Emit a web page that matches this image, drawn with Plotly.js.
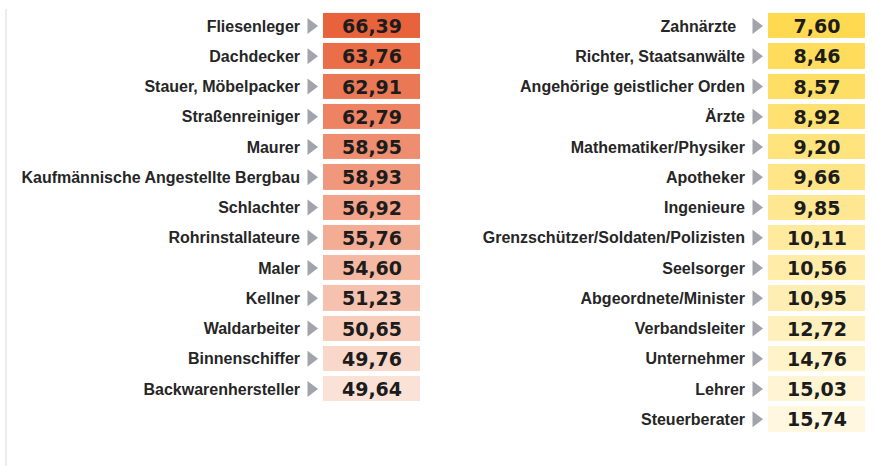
<!DOCTYPE html>
<html>
<head>
<meta charset="utf-8">
<script src="https://cdn.plot.ly/plotly-3.0.1.min.js"></script>
<style>html,body{margin:0;padding:0;background:#fff;}#chart{width:874px;height:466px;}</style>
</head>
<body>
<div id="chart"></div>
<script>
// ---- data ----
const leftJobs = ["Fliesenleger","Dachdecker","Stauer, Möbelpacker","Straßenreiniger","Maurer",
  "Kaufmännische Angestellte Bergbau","Schlachter","Rohrinstallateure","Maler","Kellner",
  "Waldarbeiter","Binnenschiffer","Backwarenhersteller"];
const leftValues = [66.39,63.76,62.91,62.79,58.95,58.93,56.92,55.76,54.60,51.23,50.65,49.76,49.64];

const rightJobs = ["Zahnärzte","Richter, Staatsanwälte","Angehörige geistlicher Orden","Ärzte",
  "Mathematiker/Physiker","Apotheker","Ingenieure","Grenzschützer/Soldaten/Polizisten","Seelsorger",
  "Abgeordnete/Minister","Verbandsleiter","Unternehmer","Lehrer","Steuerberater"];
const rightValues = [7.60,8.46,8.57,8.92,9.20,9.66,9.85,10.11,10.56,10.95,12.72,14.76,15.03,15.74];

// ---- styling helpers ----
function hex2rgb(h){return [1,3,5].map(i=>parseInt(h.substr(i,2),16));}
function mix(a,b,t){const A=hex2rgb(a),B=hex2rgb(b);return 'rgb('+A.map((v,i)=>Math.round(v+(B[i]-v)*t)).join(',')+')';}
function rankScale(values, strong, pale, strongAtMax){
  const sorted=[...values].sort((a,b)=>strongAtMax? b-a : a-b);
  const mn=Math.min(...values), mx=Math.max(...values), n=sorted.length;
  const stops=sorted.map((v,i)=>[(v-mn)/(mx-mn), mix(strong,pale,i/(n-1))]);
  stops.sort((a,b)=>a[0]-b[0]);
  return stops;
}

const CELL_W = 97, LEAD = 20, TRI_OFF = 12;
const xr = [-0.5 - LEAD/CELL_W, 0.5];
const triX = -0.5 - TRI_OFF/CELL_W;

const labelFont = {family:'"Liberation Sans", Arial, sans-serif', size:16, color:'#262626', weight:700};
const numFont = {family:'"DejaVu Sans", sans-serif', size:19, color:'#1c1c1c', weight:700};

const traces = [
  {type:'heatmap', x:[0], y:leftJobs, z:leftValues.map(v=>[v]), xaxis:'x', yaxis:'y',
   colorscale: rankScale(leftValues,'#E8633B','#FBE2D6',true), showscale:false,
   ygap:5, xgap:0, texttemplate:'%{z:.2f}', textfont:numFont, hoverinfo:'skip'},
  {type:'heatmap', x:[0], y:rightJobs, z:rightValues.map(v=>[v]), xaxis:'x2', yaxis:'y2',
   colorscale: rankScale(rightValues,'#FFDA50','#FFF7DF',false), showscale:false,
   ygap:5, xgap:0, texttemplate:'%{z:.2f}', textfont:numFont, hoverinfo:'skip'},
  {type:'scatter', mode:'markers', x:leftJobs.map(()=>triX), y:leftJobs, xaxis:'x', yaxis:'y',
   marker:{symbol:'triangle-right', size:14, color:'#A3A3AB'}, hoverinfo:'skip', cliponaxis:false},
  {type:'scatter', mode:'markers', x:rightJobs.map(()=>triX), y:rightJobs, xaxis:'x2', yaxis:'y2',
   marker:{symbol:'triangle-right', size:14, color:'#A3A3AB'}, hoverinfo:'skip', cliponaxis:false}
];

const FIG_H = 466, FIG_W = 874;
const topPad = 10.9, rowH = 30.25, nRows = 14;
const yDom = [1 - (topPad + nRows*rowH)/FIG_H, 1 - topPad/FIG_H];

function yax(cats){
  return {type:'category', domain:yDom, range:[nRows-0.5,-0.5], showgrid:false, zeroline:false,
    showline:false, ticks:'', tickfont:labelFont, fixedrange:true, ticklabelstandoff:2,
    tickvals:cats, ticktext:cats.map(c=> c==='Zahnärzte' ? c+'\u00a0\u00a0' : c)};
}

const layout = {
  width:FIG_W, height:FIG_H, margin:{l:0,r:0,t:0,b:0},
  paper_bgcolor:'#ffffff', plot_bgcolor:'rgba(0,0,0,0)',
  separators:',.', showlegend:false,
  xaxis:{domain:[303/FIG_W, 420/FIG_W], range:xr, visible:false, fixedrange:true},
  xaxis2:{domain:[748/FIG_W, 865/FIG_W], range:xr, visible:false, fixedrange:true},
  yaxis:Object.assign(yax(leftJobs),{anchor:'x'}),
  yaxis2:Object.assign(yax(rightJobs),{anchor:'x2'}),
  shapes:[{type:'line', xref:'paper', yref:'paper', x0:6/FIG_W, x1:6/FIG_W, y0:0, y1:1-9/FIG_H,
    line:{color:'#EDEDED', width:2}}]
};

Plotly.newPlot('chart', traces, layout, {staticPlot:true, displayModeBar:false});
</script>
</body>
</html>
